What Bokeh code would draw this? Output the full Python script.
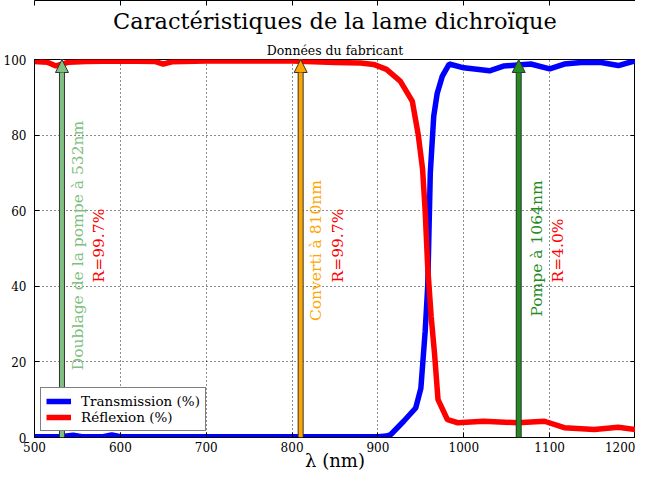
import numpy as np
from bokeh.plotting import figure
from bokeh.models import (Title, Arrow, NormalHead, Legend, LegendItem,
                          FixedTicker, Range1d, ColumnDataSource, LinearAxis)
from bokeh.core.properties import value
from bokeh.embed import file_html
from bokeh.resources import INLINE

# ---- data ----
wl_T = [500, 530, 545, 555, 580, 590, 600, 700, 800, 900, 910, 915, 930, 944,
        950, 955, 958, 961, 965, 969, 975, 983, 1000, 1030, 1047, 1078, 1100,
        1117, 1140, 1160, 1180, 1200]
trans = [0.2, 0.2, 0.6, 0.2, 0.2, 0.7, 0.2, 0.2, 0.2, 0.2, 0.4, 0.8, 4.3, 7.8,
         13, 28, 40, 70, 85, 91, 95.6, 98.8, 97.8, 97.0, 98.3, 98.8, 97.5,
         98.8, 99.3, 99.2, 98.4, 99.7]

wl_R = [500, 515, 525, 540, 560, 600, 640, 650, 660, 700, 800, 850, 880, 895,
        910, 926, 940, 947, 952, 955, 958, 962, 966, 970, 981, 993, 1023, 1063,
        1094, 1117, 1152, 1180, 1200]
refl = [99.5, 99.3, 98.3, 99.3, 99.5, 99.6, 99.5, 98.8, 99.4, 99.6, 99.6, 99.2,
        99.1, 98.7, 97.4, 94.3, 89, 80, 71, 60, 45, 32, 22, 10, 4.7, 3.9, 4.3,
        3.9, 4.3, 2.6, 2.1, 2.7, 2.1]

arrow_wl = [532, 810, 1064]
arrow_colors = ["#80c080", "#ffa500", "#228b22"]
arrow_labels = ["Doublage de la pompe à 532nm", "Converti à 810nm", "Pompe à 1064nm"]
label_x = [551, 828, 1085]
label_y = [17.8, 30.8, 32.0]
r_labels = ["R=99.7%", "R=99.7%", "R=4.0%"]
r_x = [575, 853, 1110]
r_y = [41, 41, 41]

x_ticks = [500, 600, 700, 800, 900, 1000, 1100, 1200]
y_ticks = [0, 20, 40, 60, 80, 100]

SERIF = "DejaVu Serif"

p = figure(width=635, height=473, output_backend="svg", toolbar_location=None,
           x_range=Range1d(500, 1200), y_range=Range1d(0, 100),
           min_border_left=0, min_border_right=0, min_border_top=0,
           min_border_bottom=0)
p.outline_line_color = "black"
p.outline_line_width = 1
p.background_fill_color = "white"

# titles (sub first, main outer)
p.add_layout(Title(text="Données du fabricant", text_font=SERIF,
                   text_font_size="12.5px", text_font_style="normal",
                   text_color="black", align="center", offset=0, standoff=3),
             "above")
p.add_layout(Title(text="Caractéristiques de la lame dichroïque", text_font=SERIF,
                   text_font_size="22.5px", text_font_style="normal",
                   text_color="black", align="center", standoff=11), "above")

# extra axes (ticks only) on top and right
p.add_layout(LinearAxis(), "right")
p.add_layout(LinearAxis(), "above")

for ax in p.axis:
    ax.major_label_text_font = SERIF
    ax.major_label_text_font_size = "12px"
    ax.major_label_text_color = "black"
    ax.major_tick_in = 5
    ax.major_tick_out = 0
    ax.minor_tick_in = 0
    ax.minor_tick_out = 0
    ax.axis_line_color = "black"
    ax.major_tick_line_color = "black"
for ax in p.xaxis:
    ax.ticker = FixedTicker(ticks=x_ticks)
for ax in p.yaxis:
    ax.ticker = FixedTicker(ticks=y_ticks)
for ax in list(p.right) + list(p.above):
    if isinstance(ax, LinearAxis):
        ax.major_label_text_font_size = "0px"
        ax.major_label_standoff = 0
        ax.major_label_text_alpha = 0

xb = p.below[0]
xb.axis_label = "λ (nm)"
xb.axis_label_text_font = SERIF
xb.axis_label_text_font_size = "18px"
xb.axis_label_text_font_style = "normal"
xb.axis_label_text_color = "black"
xb.axis_label_standoff = -5
xb.major_label_standoff = 4
p.left[0].major_label_standoff = 8

p.grid.grid_line_color = "black"
p.grid.grid_line_dash = "1 3"
p.grid.grid_line_width = 1
p.grid.grid_line_alpha = 0.9

# lines
lt = p.line(wl_T, trans, line_color="blue", line_width=5.5)
lr = p.line(wl_R, refl, line_color="red", line_width=5.5)

# arrows
for xv, col in zip(arrow_wl, arrow_colors):
    p.segment(x0=[xv], y0=[0], x1=[xv], y1=[97], line_color="#333333", line_width=6)
    p.add_layout(Arrow(end=NormalHead(size=13, fill_color=col, line_color="#333333",
                                      line_width=1),
                       x_start=xv, y_start=0, x_end=xv, y_end=100,
                       line_color=col, line_width=4))

src_l = ColumnDataSource(dict(x=label_x, y=label_y, t=arrow_labels, c=arrow_colors))
p.text(x="x", y="y", text="t", text_color="c", angle=np.pi / 2,
       text_align="left", text_baseline="middle", text_font=value(SERIF),
       text_font_size="15.5px", source=src_l)
src_r = ColumnDataSource(dict(x=r_x, y=r_y, t=r_labels))
p.text(x="x", y="y", text="t", text_color="red", angle=np.pi / 2,
       text_align="left", text_baseline="middle", text_font=value(SERIF),
       text_font_size="15.5px", source=src_r)

legend = Legend(items=[LegendItem(label="Transmission (%)", renderers=[lt]),
                       LegendItem(label="Réflexion (%)", renderers=[lr])],
                location="bottom_left", border_line_color="black",
                border_line_width=1, label_text_font=SERIF,
                label_text_font_size="13.5px", label_text_color="black",
                glyph_width=25, glyph_height=12, label_standoff=10,
                label_height=16, spacing=0, padding=5, margin=6,
                background_fill_alpha=1)
p.add_layout(legend)

open("out.html", "w").write(file_html(p, INLINE))
